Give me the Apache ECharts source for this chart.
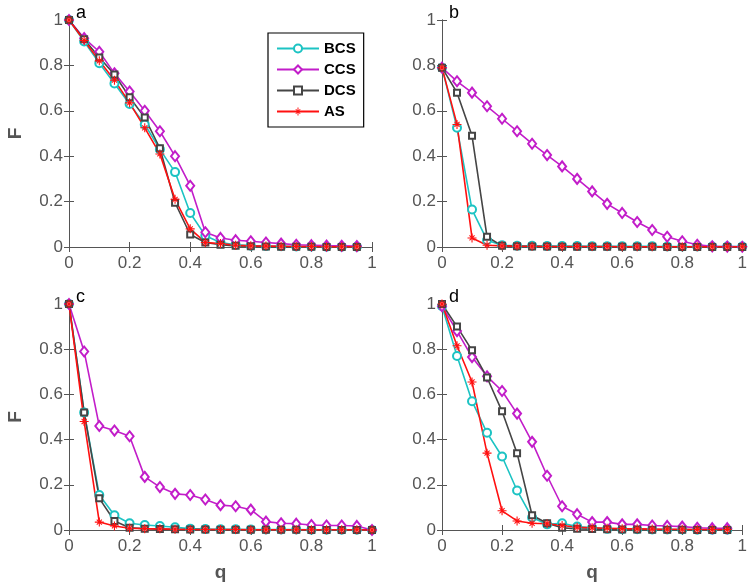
<!DOCTYPE html>
<html>
<head>
<meta charset="utf-8">
<script src="https://cdn.jsdelivr.net/npm/echarts@6/dist/echarts.min.js"></script>
<style>html,body{margin:0;padding:0;background:#fff}#c{width:750px;height:584px}</style>
</head>
<body>
<div id="c"></div>
<script>
// q values
const q20 = [0,0.05,0.1,0.15,0.2,0.25,0.3,0.35,0.4,0.45,0.5,0.55,0.6,0.65,0.7,0.75,0.8,0.85,0.9,0.95];
const q21 = [0,0.05,0.1,0.15,0.2,0.25,0.3,0.35,0.4,0.45,0.5,0.55,0.6,0.65,0.7,0.75,0.8,0.85,0.9,0.95,1];

// Panel a (q20)
const aBCS = [1,0.905,0.81,0.72,0.63,0.54,0.43,0.33,0.15,0.05,0.02,0.01,0.006,0.004,0.003,0.002,0.002,0.001,0.001,0.001];
const aCCS = [1,0.92,0.86,0.765,0.685,0.60,0.51,0.40,0.27,0.065,0.04,0.03,0.025,0.02,0.015,0.01,0.008,0.006,0.005,0.004];
const aDCS = [1,0.915,0.835,0.76,0.66,0.57,0.435,0.195,0.055,0.02,0.01,0.005,0.003,0.002,0.001,0.001,0.001,0,0,0];
const aAS  = [1,0.91,0.82,0.735,0.635,0.525,0.41,0.21,0.08,0.02,0.015,0.008,0.005,0.004,0.003,0.002,0.002,0.001,0.001,0.001];

// Panel b (q21)
const bBCS = [0.79,0.525,0.165,0.03,0.008,0.005,0.005,0.004,0.004,0.004,0.003,0.003,0.003,0.003,0.003,0.002,0.002,0.002,0.002,0.002,0.002];
const bCCS = [0.79,0.73,0.68,0.62,0.565,0.51,0.455,0.405,0.355,0.30,0.245,0.19,0.15,0.11,0.075,0.045,0.025,0.01,0.003,0.002,0.001];
const bDCS = [0.79,0.68,0.49,0.045,0.005,0.003,0.002,0.002,0.001,0.001,0.001,0.001,0.001,0.001,0.001,0,0,0,0,0,0];
const bAS  = [0.79,0.54,0.04,0.008,0.005,0.003,0.003,0.002,0.002,0.002,0.002,0.002,0.001,0.001,0.001,0.001,0.001,0.001,0.001,0.001,0.001];

// Panel c (q21)
const cBCS = [1,0.52,0.155,0.065,0.03,0.022,0.018,0.012,0.006,0.004,0.003,0.003,0.002,0.002,0.002,0.002,0.001,0.001,0.001,0.001,0];
const cCCS = [1,0.79,0.46,0.44,0.415,0.235,0.19,0.16,0.155,0.135,0.11,0.105,0.09,0.037,0.03,0.028,0.022,0.02,0.02,0.018,0];
const cDCS = [1,0.52,0.14,0.04,0.01,0.006,0.004,0.003,0.002,0.002,0.001,0.001,0.001,0.001,0.001,0.001,0,0,0,0,0];
const cAS  = [1,0.48,0.035,0.018,0.008,0.006,0.005,0.003,0.002,0.002,0.002,0.002,0.001,0.001,0.001,0.001,0.001,0.001,0.001,0.001,0];

// Panel d (q20)
const dBCS = [0.99,0.77,0.57,0.43,0.325,0.175,0.055,0.025,0.03,0.015,0.01,0.005,0.003,0.003,0.002,0.002,0.002,0.001,0.001,0.001];
const dCCS = [0.99,0.88,0.765,0.68,0.615,0.515,0.39,0.24,0.105,0.07,0.035,0.035,0.025,0.025,0.02,0.018,0.015,0.01,0.008,0.008];
const dDCS = [1,0.90,0.795,0.675,0.525,0.34,0.065,0.03,0.01,0.005,0.004,0.003,0.002,0.002,0.001,0.001,0.001,0,0,0];
const dAS  = [1,0.815,0.655,0.34,0.085,0.04,0.03,0.028,0.02,0.012,0.01,0.008,0.006,0.005,0.004,0.003,0.003,0.002,0.002,0.002];

const names = ['BCS','CCS','DCS','AS'];
const panelLetters = ['a','b','c','d'];

const colors = {BCS:'#1CC3C3', CCS:'#C21DC9', DCS:'#454545', AS:'#FF1010'};
const asterisk = 'path://M4.4 0L5.6 0L5.6 10L4.4 10Z M0 4.4L10 4.4L10 5.6L0 5.6Z M1.75 2.59L2.59 1.75L8.25 7.41L7.41 8.25Z M2.59 8.25L1.75 7.41L7.41 1.75L8.25 2.59Z';
const symbols = {BCS:'emptyCircle', CCS:'emptyDiamond', DCS:'emptyRect', AS:asterisk};
const sizes = {BCS:8, CCS:[8,10], DCS:6, AS:9};
const borders = {BCS:1.3, CCS:1.3, DCS:1, AS:1.3};

const panels = [
  {q:q20, d:{BCS:aBCS,CCS:aCCS,DCS:aDCS,AS:aAS}},
  {q:q21, d:{BCS:bBCS,CCS:bCCS,DCS:bDCS,AS:bAS}},
  {q:q21, d:{BCS:cBCS,CCS:cCCS,DCS:cDCS,AS:cAS}},
  {q:q20, d:{BCS:dBCS,CCS:dCCS,DCS:dDCS,AS:dAS}}
];

const grids = [
  {left:69, top:20, width:303, height:227},
  {left:442, top:20, width:302, height:227},
  {left:69, top:304, width:303, height:226},
  {left:442, top:304, width:302, height:226}
];

const axisColor = '#555';
const font = 'Liberation Sans';
const xAxes = [], yAxes = [], series = [], titles = [];
grids.forEach((g, i) => {
  const bottom = i >= 2, left = (i % 2) === 0;
  xAxes.push({
    gridIndex:i, type:'value', min:0, max:1, interval:0.2, position:'bottom',
    axisLine:{show:true, lineStyle:{color:axisColor, width:1}},
    axisTick:{show:true, inside:true, length:5, lineStyle:{color:axisColor}},
    axisLabel:{color:axisColor, fontSize:17, fontFamily:font, margin:8},
    splitLine:{show:false},
    name: bottom ? 'q' : '', nameLocation:'middle', nameGap:33,
    nameTextStyle:{color:axisColor, fontSize:19, fontWeight:'bold', fontFamily:font}
  });
  xAxes.push({
    gridIndex:i, type:'value', min:0, max:1, interval:0.2, position:'top',
    axisLine:{show:true, lineStyle:{color:axisColor, width:1}},
    axisTick:{show:true, inside:true, length:5, lineStyle:{color:axisColor}},
    axisLabel:{show:false}, splitLine:{show:false}
  });
  yAxes.push({
    gridIndex:i, type:'value', min:0, max:1, interval:0.2, position:'left',
    axisLine:{show:true, lineStyle:{color:axisColor, width:1}},
    axisTick:{show:true, inside:true, length:5, lineStyle:{color:axisColor}},
    axisLabel:{color:axisColor, fontSize:17, fontFamily:font, margin:6},
    splitLine:{show:false},
    name: left ? 'F' : '', nameLocation:'middle', nameGap:44,
    nameTextStyle:{color:axisColor, fontSize:19, fontWeight:'bold', fontFamily:font}
  });
  yAxes.push({
    gridIndex:i, type:'value', min:0, max:1, interval:0.2, position:'right',
    axisLine:{show:true, lineStyle:{color:axisColor, width:1}},
    axisTick:{show:true, inside:true, length:5, lineStyle:{color:axisColor}},
    axisLabel:{show:false}, splitLine:{show:false}
  });
  titles.push({text:panelLetters[i], left:g.left + 2, top:g.top - 21,
    textStyle:{color:'#000', fontSize:18, fontWeight:'normal', fontFamily:font}});
  const p = panels[i];
  names.forEach(n => {
    series.push({
      name:n, type:'line', xAxisIndex:i*2, yAxisIndex:i*2,
      data:p.q.map((x, k) => [x, p.d[n][k]]),
      symbol:symbols[n], symbolSize:sizes[n], showSymbol:true,
      lineStyle:{color:colors[n], width:1.6},
      itemStyle:{color:colors[n], borderWidth:borders[n]},
      animation:false, clip:false
    });
  });
});

const chart = echarts.init(document.getElementById('c'), null, {renderer:'canvas'});
chart.setOption({
  backgroundColor:'#fff',
  animation:false,
  title:titles,
  grid:grids,
  xAxis:xAxes,
  yAxis:yAxes,
  legend:{
    data:names, orient:'vertical', left:268, top:33,
    borderColor:'#000', borderWidth:1.2, padding:[8,8,8,8],
    itemWidth:42, itemHeight:10, itemGap:6,
    textStyle:{color:'#000', fontSize:15, fontWeight:'bold', fontFamily:font},
    backgroundColor:'#fff'
  },
  series:series
});
</script>
</body>
</html>
